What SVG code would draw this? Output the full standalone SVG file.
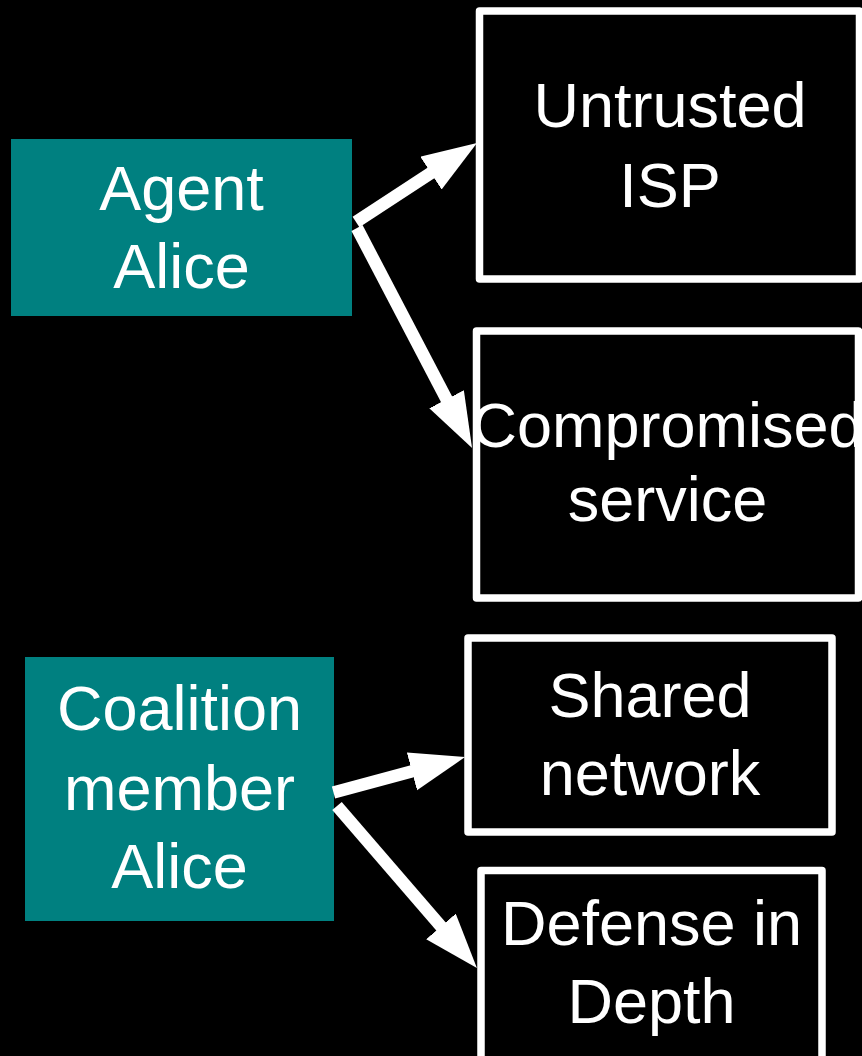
<svg xmlns="http://www.w3.org/2000/svg" width="862" height="1056" viewBox="0 0 862 1056">
<style>
.bg{fill:#000}
.src{fill:#008080}
.dst{fill:#000;stroke:#fff;stroke-width:7.5;stroke-linejoin:round}
.t{fill:#fff;font-family:"Liberation Sans",Arial,Helvetica,sans-serif;font-size:63px;text-anchor:middle}
.c{stroke:#fff;stroke-width:12.5;fill:none;marker-end:url(#ah)}
</style>
<defs>
<marker id="ah" markerUnits="userSpaceOnUse" markerWidth="58" markerHeight="42" refX="10" refY="19.5" orient="auto" viewBox="0 0 58 42">
<path d="M0,0 L55,19.5 L0,39 Z" fill="#fff"/>
</marker>
</defs>
<rect class="bg" x="0" y="0" width="862" height="1056"/>
<g id="agent-alice">
<rect class="src" x="11" y="139" width="341" height="177"/>
<text class="t" x="181.5" y="210">Agent</text>
<text class="t" x="181.5" y="288">Alice</text>
</g>
<g id="untrusted-isp">
<rect class="dst" x="479.5" y="11" width="380" height="268"/>
<text class="t" x="670" y="127">Untrusted</text>
<text class="t" x="670" y="207">ISP</text>
</g>
<g id="compromised-service">
<rect class="dst" x="476.5" y="331" width="382" height="267"/>
<text class="t" x="667.5" y="447">Compromised</text>
<text class="t" x="667.5" y="521">service</text>
</g>
<g id="coalition-member-alice">
<rect class="src" x="25" y="657" width="309" height="264"/>
<text class="t" x="179.5" y="730">Coalition</text>
<text class="t" x="179.5" y="810">member</text>
<text class="t" x="179.5" y="888">Alice</text>
</g>
<g id="shared-network">
<rect class="dst" x="468" y="638" width="364" height="194"/>
<text class="t" x="650" y="717">Shared</text>
<text class="t" x="650" y="795">network</text>
</g>
<g id="defense-in-depth">
<rect class="dst" x="481" y="870.5" width="341" height="200"/>
<text class="t" x="651.5" y="945">Defense in</text>
<text class="t" x="651.5" y="1023">Depth</text>
</g>
<g id="connectors">
<line class="c" x1="356" y1="222" x2="439.3" y2="167.6"/>
<line class="c" x1="357" y1="228" x2="451.2" y2="408.1"/>
<line class="c" x1="333.5" y1="792.5" x2="421.6" y2="768.8"/>
<line class="c" x1="337" y1="806" x2="447.5" y2="934"/>
</g>
</svg>
